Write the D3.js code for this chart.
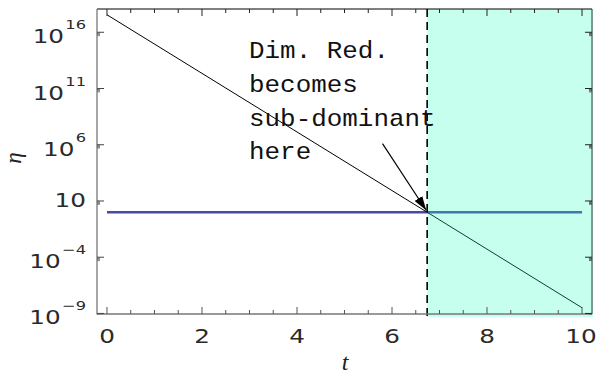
<!DOCTYPE html>
<html>
<head>
<meta charset="utf-8">
<script src="https://cdn.jsdelivr.net/npm/d3@7"></script>
<style>
  body { margin: 0; background: #fff; }
  svg { display: block; }
</style>
</head>
<body>
<div id="chart"></div>
<script>
// chart size
var width = 597, height = 381;

// data
var tValues = [0, 10];
var dimRedEta = [3.6e17, 3.2e-9];   // straight line on the log axis
var flatEta = [1, 1];
var tCross = 6.74;                   // where dim. red. becomes sub-dominant
var xTicks = [0, 2, 4, 6, 8, 10];
var yTickExp = [16, 11, 6, 1, -4, -9];
var noteLines = ["Dim. Red.", "becomes", "sub-dominant", "here"];
var arrowTail = [5.8, Math.pow(10, 6.1)];

var svg = d3.select("#chart").append("svg")
    .attr("width", width)
    .attr("height", height);

var x = d3.scaleLinear().domain([-0.21, 10.21]).range([97, 592]);
var y = d3.scaleLog().domain([Math.pow(10, -9.05), Math.pow(10, 18.07)]).range([314, 9]);

var x0 = x.range()[0], x1 = x.range()[1];
var yTop = y.range()[1], yBot = y.range()[0];

// clip for the curves
svg.append("clipPath").attr("id", "plotclip")
  .append("rect").attr("x", x0).attr("y", yTop).attr("width", x1 - x0).attr("height", yBot - yTop);

var plot = svg.append("g").attr("clip-path", "url(#plotclip)");

var line = d3.line()
    .x(function(d) { return x(d[0]); })
    .y(function(d) { return y(d[1]); });

// flat (blue) line
plot.append("path")
    .datum(d3.zip(tValues, flatEta))
    .attr("d", line)
    .attr("fill", "none")
    .attr("stroke", "#4848aa")
    .attr("stroke-width", 2.4);

// dim. red. line
plot.append("path")
    .datum(d3.zip(tValues, dimRedEta))
    .attr("d", line)
    .attr("fill", "none")
    .attr("stroke", "#000")
    .attr("stroke-width", 1);

// shaded region, semi transparent over the curves
svg.append("rect")
    .attr("x", x(tCross))
    .attr("y", yTop)
    .attr("width", x1 + 1 - x(tCross))
    .attr("height", yBot - yTop + 3)
    .attr("fill", "rgb(37,255,190)")
    .attr("fill-opacity", 0.26);

// dashed vertical line
svg.append("line")
    .attr("x1", x(tCross)).attr("x2", x(tCross))
    .attr("y1", yTop).attr("y2", yBot + 2)
    .attr("stroke", "#000")
    .attr("stroke-width", 1.6)
    .attr("stroke-dasharray", "8,5");

// frame
var frame = svg.append("g");
frame.append("line").attr("x1", x0).attr("x2", x1).attr("y1", yTop).attr("y2", yTop).attr("stroke", "#000");
frame.append("line").attr("x1", x1).attr("x2", x1).attr("y1", yTop).attr("y2", yBot).attr("stroke", "#333");
frame.append("line").attr("x1", x0).attr("x2", x0).attr("y1", yTop).attr("y2", yBot + 0.5).attr("stroke", "#777").attr("stroke-width", 1.3);
frame.append("line").attr("x1", x0).attr("x2", x1).attr("y1", yBot).attr("y2", yBot).attr("stroke", "#777").attr("stroke-width", 1.3);

// x ticks (major every 2, minor every 0.5) on bottom and top
var xMinor = d3.range(0, 10.01, 0.5).filter(function(v) { return xTicks.indexOf(v) < 0; });
function xTickMarks(vals, len) {
  frame.selectAll(null).data(vals).enter().append("line")
      .attr("x1", function(d) { return x(d); }).attr("x2", function(d) { return x(d); })
      .attr("y1", yBot).attr("y2", yBot - len)
      .attr("stroke", "#555");
  frame.selectAll(null).data(vals).enter().append("line")
      .attr("x1", function(d) { return x(d); }).attr("x2", function(d) { return x(d); })
      .attr("y1", yTop).attr("y2", yTop + len)
      .attr("stroke", "#222");
}
xTickMarks(xTicks, 7);
xTickMarks(xMinor, 4);

// y ticks on left and right with a small cluster of minor marks
yTickExp.forEach(function(e) {
  var yy = y(Math.pow(10, e));
  frame.append("line").attr("x1", x0).attr("x2", x0 + 7).attr("y1", yy).attr("y2", yy).attr("stroke", "#444");
  frame.append("line").attr("x1", x1).attr("x2", x1 - 7).attr("y1", yy).attr("y2", yy).attr("stroke", "#222");
  [5, 6, 7, 8, 9].forEach(function(m) {
    var v = m * Math.pow(10, e - 1);
    var ym = y(v);
    if (ym > yBot) return;
    frame.append("line").attr("x1", x0).attr("x2", x0 + 3).attr("y1", ym).attr("y2", ym).attr("stroke", "#666").attr("stroke-width", 0.7);
    frame.append("line").attr("x1", x1).attr("x2", x1 - 3).attr("y1", ym).attr("y2", ym).attr("stroke", "#444").attr("stroke-width", 0.7);
  });
});

// tick labels
var labelFont = "DejaVu Sans, sans-serif";
var sx = 1.3;

frame.selectAll(null).data(xTicks).enter().append("g")
    .attr("transform", function(d) { return "translate(" + (d === 10 ? x(d) - 1 : x(d)) + ",343) scale(" + sx + ",1)"; })
  .append("text")
    .attr("text-anchor", "middle")
    .attr("font-family", labelFont)
    .attr("font-size", 19)
    .attr("fill", "#2a2a2a")
    .text(function(d) { return d; });

yTickExp.forEach(function(e) {
  var yy = y(Math.pow(10, e));
  var g = frame.append("g")
      .attr("transform", "translate(86," + (yy + (e === 1 ? 6.5 : 11)) + ") scale(" + sx + ",1)");
  var t = g.append("text")
      .attr("text-anchor", "end")
      .attr("font-family", labelFont)
      .attr("font-size", 19)
      .attr("fill", "#2a2a2a");
  t.append("tspan").text("10");
  if (e !== 1) {
    t.append("tspan")
        .attr("dx", 1)
        .attr("dy", -14)
        .attr("font-size", 12.5)
        .text(String(e).replace("-", "\u2212"));
  }
});

// axis titles
svg.append("text")
    .attr("x", 345).attr("y", 370)
    .attr("text-anchor", "middle")
    .attr("font-family", "Liberation Serif, serif")
    .attr("font-style", "italic")
    .attr("font-size", 24)
    .attr("fill", "#222")
    .text("t");

svg.append("text")
    .attr("transform", "translate(21,158) rotate(-90)")
    .attr("text-anchor", "middle")
    .attr("font-family", "Liberation Serif, serif")
    .attr("font-style", "italic")
    .attr("font-size", 23)
    .attr("fill", "#222")
    .text("\u03b7");

// annotation text
var note = svg.append("g")
    .attr("transform", "translate(249,0) scale(1.08,1)")
  .append("text")
    .attr("font-family", "Liberation Mono, Courier New, monospace")
    .attr("font-size", 24)
    .attr("fill", "#111");
noteLines.forEach(function(s, i) {
  note.append("tspan")
      .attr("x", 0)
      .attr("y", 58.3 + i * 33.7)
      .text(s);
});

// arrow to the crossing point
svg.append("defs").append("marker")
    .attr("id", "head")
    .attr("viewBox", "0 0 14 9")
    .attr("refX", 14).attr("refY", 4.5)
    .attr("markerWidth", 14).attr("markerHeight", 9)
    .attr("markerUnits", "userSpaceOnUse")
    .attr("orient", "auto")
  .append("path")
    .attr("d", "M0,0 L14,4.5 L0,9 Z")
    .attr("fill", "#000");

svg.append("line")
    .attr("x1", x(arrowTail[0])).attr("y1", y(arrowTail[1]))
    .attr("x2", x(tCross) - 1).attr("y2", y(1) - 2)
    .attr("stroke", "#000")
    .attr("stroke-width", 1.2)
    .attr("marker-end", "url(#head)");
</script>
</body>
</html>
